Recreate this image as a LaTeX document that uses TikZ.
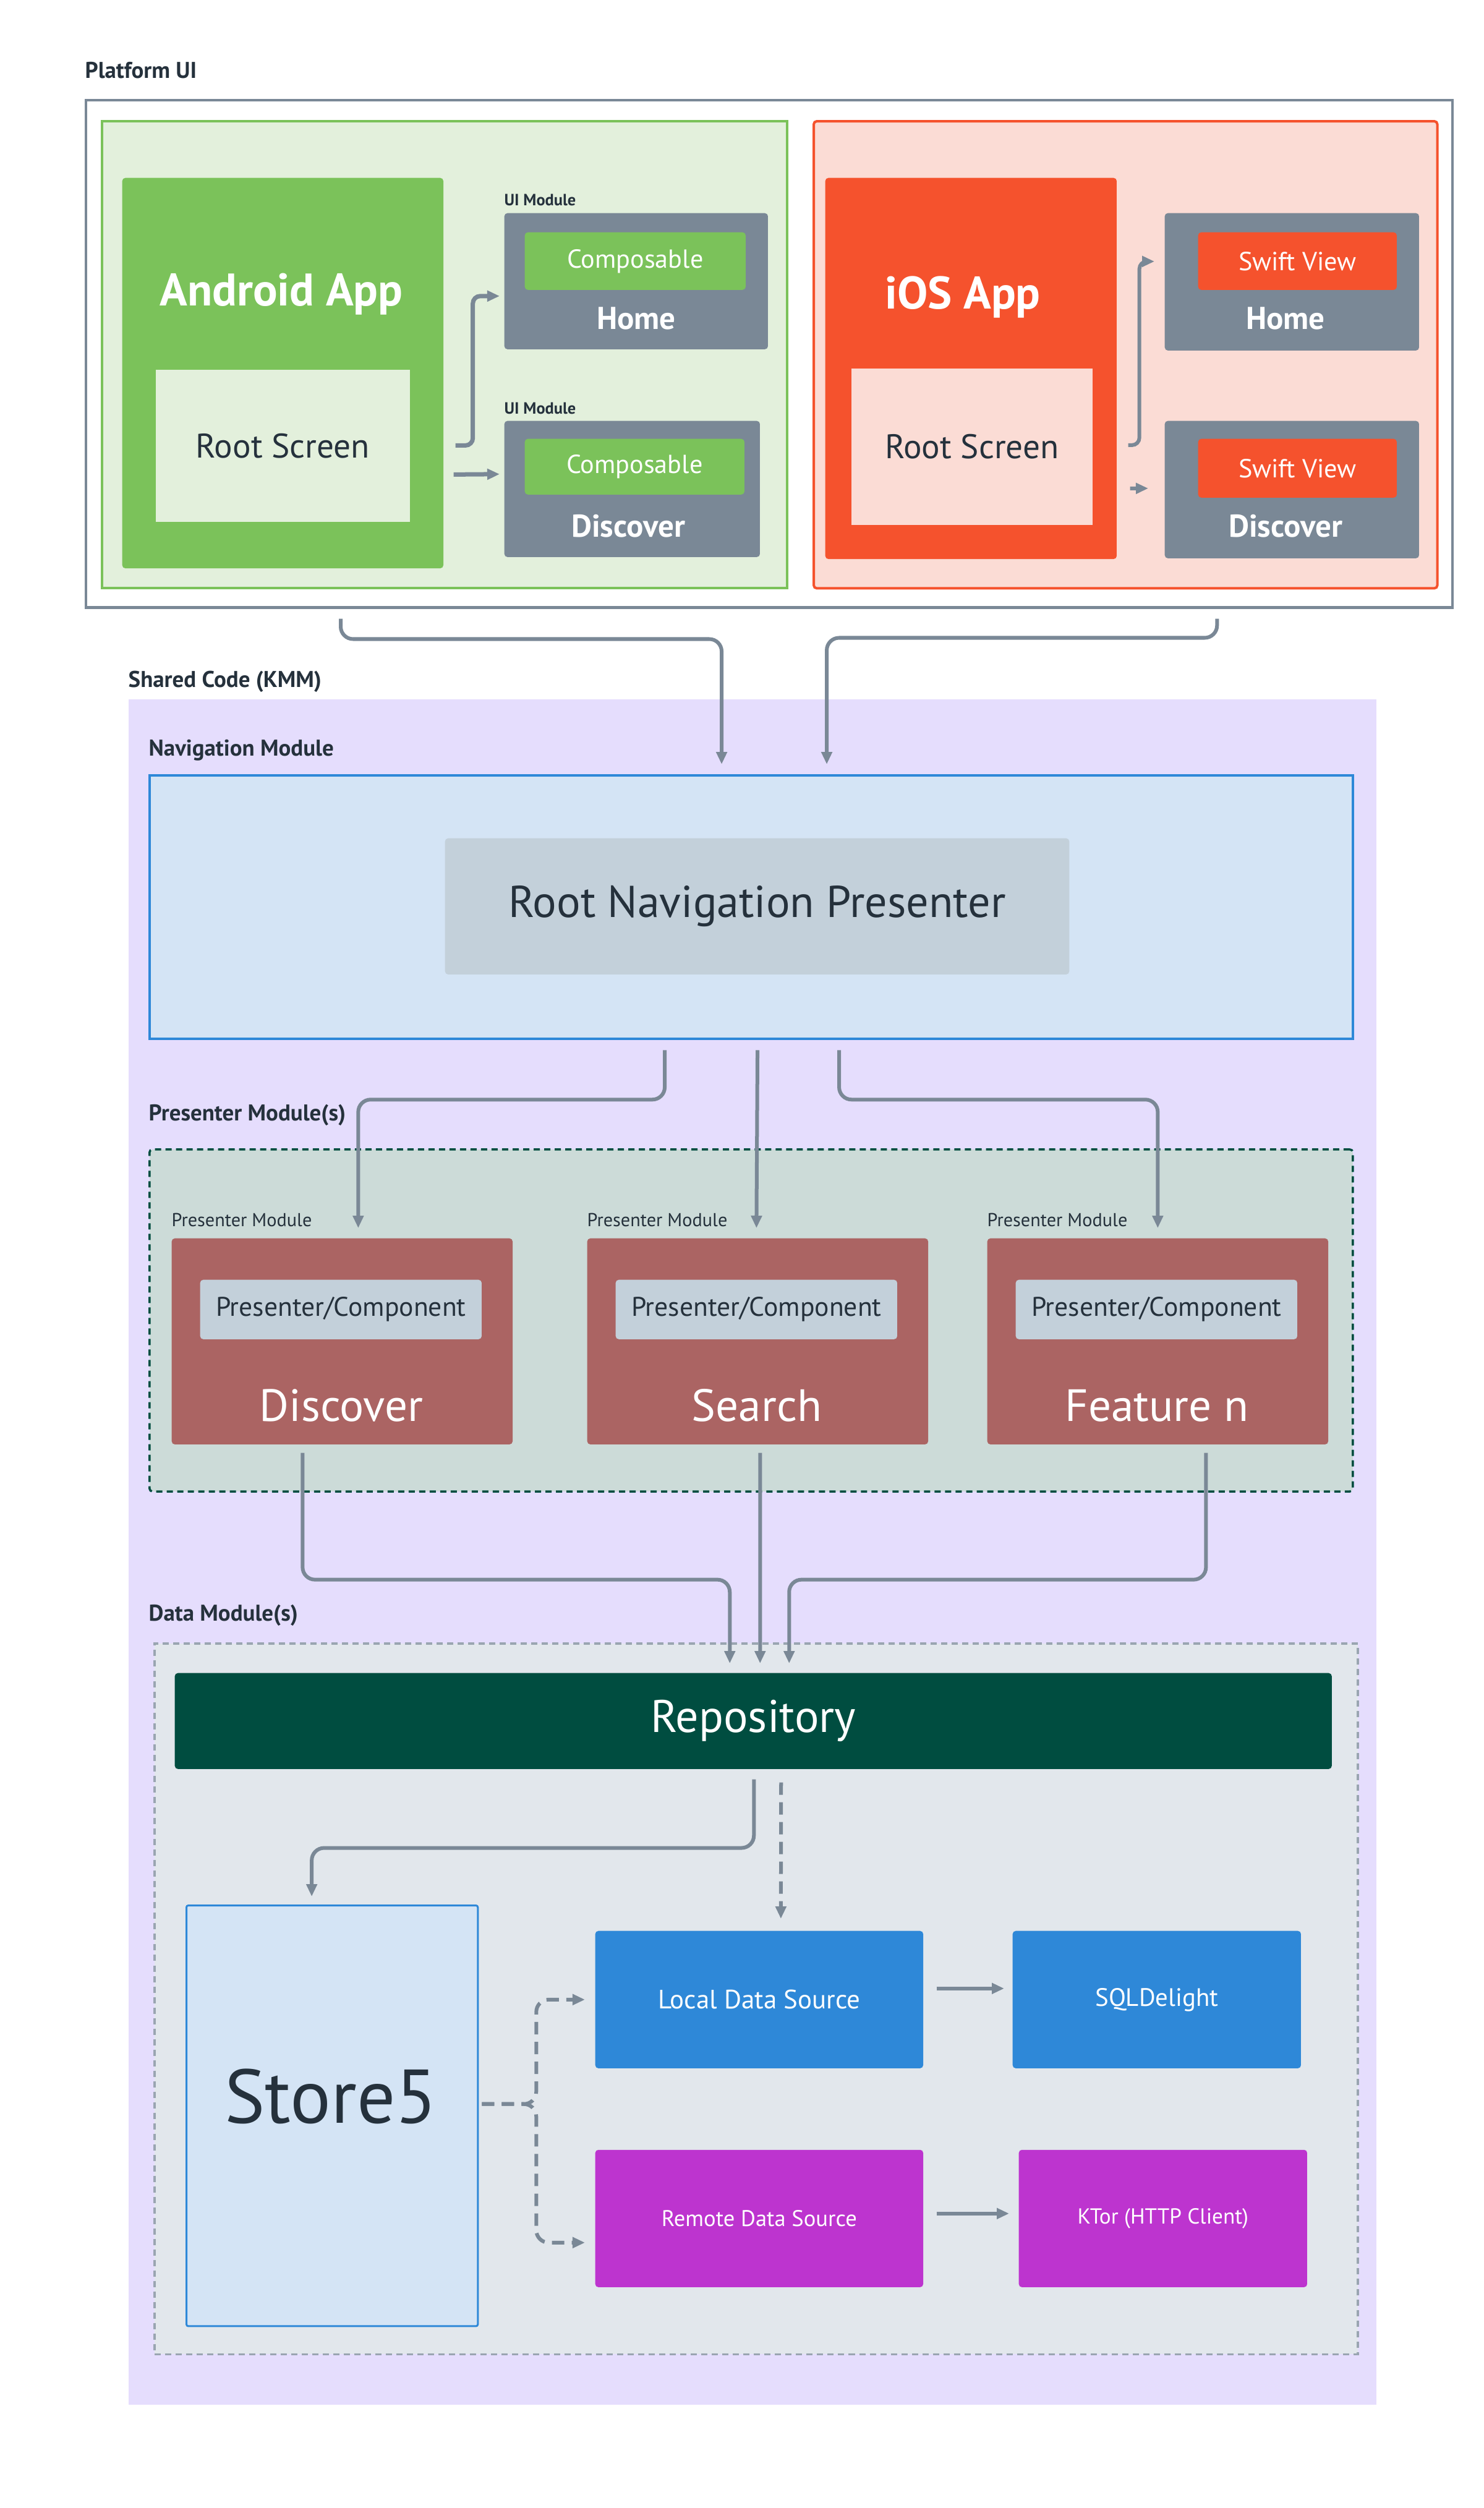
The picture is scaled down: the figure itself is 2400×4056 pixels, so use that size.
\documentclass[tikz,border=0pt]{standalone}
\usepackage{fontspec}
\setmainfont{PT Sans}
\usepackage{xcolor}
\usepackage{tikz}
\usetikzlibrary{positioning,arrows.meta}

\definecolor{slate}{HTML}{7A8896}
\definecolor{ink}{HTML}{25313C}
\definecolor{droidgreen}{HTML}{7BC25A}
\definecolor{droidlight}{HTML}{E3F0DC}
\definecolor{iosred}{HTML}{F5522D}
\definecolor{ioslight}{HTML}{FBDCD5}
\definecolor{lavender}{HTML}{E5DDFD}
\definecolor{navlight}{HTML}{D4E4F5}
\definecolor{navblue}{HTML}{2E88D8}
\definecolor{steel}{HTML}{C3D0DA}
\definecolor{sage}{HTML}{CCDBD8}
\definecolor{brick}{HTML}{AB6463}
\definecolor{pine}{HTML}{004D40}
\definecolor{mist}{HTML}{E2E7EC}
\definecolor{mistline}{HTML}{9AA5B1}
\definecolor{orchid}{HTML}{BD34CF}

\newcommand{\setfs}[1]{\fontsize{#1pt}{#1pt}\selectfont}

\begin{document}
\begin{tikzpicture}[x=0.01cm,y=-0.01cm]
        \tikzstyle{box}=[inner sep=0pt,anchor=north west,rounded corners=0.05cm]
        \tikzstyle{plain}=[inner sep=0pt,anchor=north west]
        \tikzstyle{head}=[inner sep=0pt,anchor=west,text=ink,font=\bfseries\setfs{10.5}]
        \tikzstyle{tag}=[inner sep=0pt,anchor=west,text=ink,font=\setfs{8.6}]
        \tikzstyle{conn}=[draw=slate,line width=0.06cm,rounded corners=0.2cm,-{Triangle[length=0.2cm,width=0.17cm]}]
        \tikzstyle{dconn}=[conn,dash pattern=on 0.2cm off 0.12cm]
        \fill[white] (0,0) rectangle (2400,4056);
        \useasboundingbox (0,0) rectangle (2400,4056);

        % platform ui
        \node[head] (platformlbl) at (137,114) {Platform UI};
        \node[plain,draw=slate,line width=0.04cm,minimum width=22.09cm,minimum height=8.2cm] (platform) at (137,160) {};

        \node[box,fill=droidlight,draw=droidgreen,line width=0.04cm,rounded corners=0,minimum width=11.07cm,minimum height=7.55cm] (droid) at (163,194) {};
        \node[box,fill=droidgreen,minimum width=5.19cm,minimum height=6.31cm] (andapp) at (197,287) {};
        \node[text=white,font=\bfseries\setfs{21}] (andtitle) at (455,476) {Android App};
        \node[plain,fill=droidlight,minimum width=4.11cm,minimum height=2.46cm,text=ink,font=\setfs{15.7}] (androot) at (251,597) {Root Screen};

        \node[tag,font=\bfseries\setfs{7.5}] (andmodA) at (815,323) {UI Module};
        \node[box,fill=slate,minimum width=4.26cm,minimum height=2.2cm] (andhome) at (815,344) {};
        \node[box,fill=droidgreen,minimum width=3.57cm,minimum height=0.93cm,text=white,font=\setfs{12}] (andcompA) at (848,375) {Composable};
        \node[text=white,font=\bfseries\setfs{14.5}] (andhomelbl) at (1029,515) {Home};

        \node[tag,font=\bfseries\setfs{7.5}] (andmodB) at (815,660) {UI Module};
        \node[box,fill=slate,minimum width=4.13cm,minimum height=2.2cm] (anddisc) at (815,680) {};
        \node[box,fill=droidgreen,minimum width=3.55cm,minimum height=0.9cm,text=white,font=\setfs{12}] (andcompB) at (848,709) {Composable};
        \node[text=white,font=\bfseries\setfs{14.5}] (anddisclbl) at (1016,851) {Discover};

        \node[box,fill=ioslight,draw=iosred,line width=0.04cm,minimum width=10.08cm,minimum height=7.55cm] (ios) at (1314,194) {};
        \node[box,fill=iosred,minimum width=4.71cm,minimum height=6.16cm] (iosapp) at (1334,287) {};
        \node[text=white,font=\bfseries\setfs{21}] (iostitle) at (1557,481) {iOS App};
        \node[plain,fill=ioslight,minimum width=3.9cm,minimum height=2.53cm,text=ink,font=\setfs{15.7}] (iosroot) at (1376,595) {Root Screen};

        \node[box,fill=slate,minimum width=4.11cm,minimum height=2.22cm] (ioshome) at (1883,344) {};
        \node[box,fill=iosred,minimum width=3.21cm,minimum height=0.93cm,text=white,font=\setfs{12}] (swiftA) at (1937,375) {Swift View};
        \node[text=white,font=\bfseries\setfs{14.5}] (ioshomelbl) at (2079,515) {Home};

        \node[box,fill=slate,minimum width=4.11cm,minimum height=2.22cm] (iosdisc) at (1883,680) {};
        \node[box,fill=iosred,minimum width=3.21cm,minimum height=0.95cm,text=white,font=\setfs{12}] (swiftB) at (1937,709) {Swift View};
        \node[text=white,font=\bfseries\setfs{14.5}] (iosdisclbl) at (2079,851) {Discover};

        \draw[conn,line width=0.07cm,rounded corners=0.12cm] ([shift={(19,117)}]andapp.east) -- ++(28,0) |- ([shift={(-7,24)}]andhome.west);
        \draw[conn,line width=0.07cm] ([shift={(16,164)}]andapp.east) -- ([shift={(-7,-24)}]anddisc.west);
        \draw[conn,rounded corners=0.12cm] ([shift={(18,124)}]iosapp.east) -- ++(18,0) |- ([shift={(-16,-33)}]ioshome.west);
        \draw[conn] ([shift={(21,194)}]iosapp.east) -- ([shift={(-26,-2)}]iosdisc.west);

        % shared code
        \node[head] (sharedlbl) at (207,1102) {Shared Code (KMM)};
        \node[plain,fill=lavender,minimum width=20.17cm,minimum height=27.57cm] (shared) at (207,1130) {};

        \node[head] (navlbl) at (240,1213) {Navigation Module};
        \node[plain,fill=navlight,draw=navblue,line width=0.04cm,minimum width=19.45cm,minimum height=4.26cm] (navbox) at (240,1252) {};
        \node[box,fill=steel,minimum width=10.09cm,minimum height=2.2cm,text=ink,font=\setfs{20.5}] (rootnav) at (719,1355) {Root Navigation Presenter};

        \draw[conn] ([shift={(414,16)}]platform.south west) -- ++(0,33) -| ([shift={(-48,-16)}]navbox.north);
        \draw[conn] ([shift={(-383,16)}]platform.south east) -- ++(0,31) -| ([shift={(122,-16)}]navbox.north);

        \node[head] (preslbl) at (240,1803) {Presenter Module(s)};
        \node[box,fill=sage,draw=pine,line width=0.035cm,dash pattern=on 0.1cm off 0.07cm,minimum width=19.45cm,minimum height=5.53cm] (prespanel) at (240,1857) {};

        \node[tag] (ptagA) at (277,1973) {Presenter Module};
        \node[tag] (ptagB) at (949,1973) {Presenter Module};
        \node[tag] (ptagC) at (1596,1973) {Presenter Module};
        \node[box,fill=brick,minimum width=5.51cm,minimum height=3.33cm] (pdisc) at (277,2002) {};
        \node[box,fill=brick,minimum width=5.51cm,minimum height=3.33cm] (psearch) at (949,2002) {};
        \node[box,fill=brick,minimum width=5.51cm,minimum height=3.33cm] (pfeat) at (1596,2002) {};
        \node[box,fill=steel,minimum width=4.55cm,minimum height=0.96cm,text=ink,font=\setfs{12.4}] (compA) at (323,2069) {Presenter/Component};
        \node[box,fill=steel,minimum width=4.55cm,minimum height=0.96cm,text=ink,font=\setfs{12.4}] (compB) at (995,2069) {Presenter/Component};
        \node[box,fill=steel,minimum width=4.55cm,minimum height=0.96cm,text=ink,font=\setfs{12.4}] (compC) at (1642,2069) {Presenter/Component};
        \node[text=white,font=\setfs{20.8}] (pdisclbl) at (552,2273) {Discover};
        \node[text=white,font=\setfs{20.8}] (psearchlbl) at (1224,2273) {Search};
        \node[text=white,font=\setfs{20.8}] (pfeatlbl) at (1871,2273) {Feature n};

        \draw[conn] ([shift={(-140,16)}]navbox.south) -- ++(0,80) -| ([shift={(26,-16)}]pdisc.north);
        \draw[conn] ([shift={(10,16)}]navbox.south) -- ([shift={(-2,-16)}]psearch.north);
        \draw[conn] ([shift={(142,16)}]navbox.south) -- ++(0,80) -| ([shift={(0,-16)}]pfeat.north);

        % data
        \node[head] (datalbl) at (240,2612) {Data Module(s)};
        \node[plain,fill=mist,draw=mistline,line width=0.035cm,dash pattern=on 0.1cm off 0.07cm,minimum width=19.45cm,minimum height=11.49cm] (datapanel) at (248,2656) {};
        \node[box,fill=pine,minimum width=18.7cm,minimum height=1.55cm,text=white,font=\setfs{21}] (repo) at (282,2705) {Repository};

        \draw[conn] ([shift={(-64,13)}]pdisc.south) -- ++(0,205) -| ([shift={(-38,-15)}]repo.north);
        \draw[conn] ([shift={(4,13)}]psearch.south) -- ([shift={(11,-15)}]repo.north);
        \draw[conn] ([shift={(78,13)}]pfeat.south) -- ++(0,205) -| ([shift={(58,-15)}]repo.north);

        \node[plain,fill=navlight,draw=navblue,line width=0.03cm,rounded corners=0.03cm,minimum width=4.71cm,minimum height=6.8cm] (store) at (300,3080) {};
        \node[text=ink,font=\setfs{35}] (storelbl) at (535,3390) {Store5};
        \node[box,fill=navblue,minimum width=5.3cm,minimum height=2.22cm,text=white,font=\setfs{12.2}] (local) at (962,3122) {Local Data Source};
        \node[box,fill=navblue,minimum width=4.66cm,minimum height=2.22cm,text=white,font=\setfs{11.6}] (sql) at (1637,3122) {SQLDelight};
        \node[box,fill=orchid,minimum width=5.3cm,minimum height=2.22cm,text=white,font=\setfs{10.4}] (remote) at (962,3476) {Remote Data Source};
        \node[box,fill=orchid,minimum width=4.66cm,minimum height=2.22cm,text=white,font=\setfs{10}] (ktor) at (1647,3476) {KTor (HTTP Client)};

        \draw[conn] ([shift={(1,16)}]repo.south) -- ++(0,111) -| ([shift={(-33,-13)}]store.north);
        \draw[dconn] ([shift={(45,21)}]repo.south) -- ([shift={(35,-19)}]local.north);
        \draw[dconn] ([shift={(5,-19)}]store.east) -- ++(88,0) |- ([shift={(-16,0)}]local.west);
        \draw[dconn] ([shift={(5,-19)}]store.east) -- ++(88,0) |- ([shift={(-16,39)}]remote.west);
        \draw[conn] ([shift={(21,-18)}]local.east) -- ([shift={(-13,-18)}]sql.west);
        \draw[conn] ([shift={(21,-8)}]remote.east) -- ([shift={(-15,-8)}]ktor.west);
\end{tikzpicture}
\end{document}
